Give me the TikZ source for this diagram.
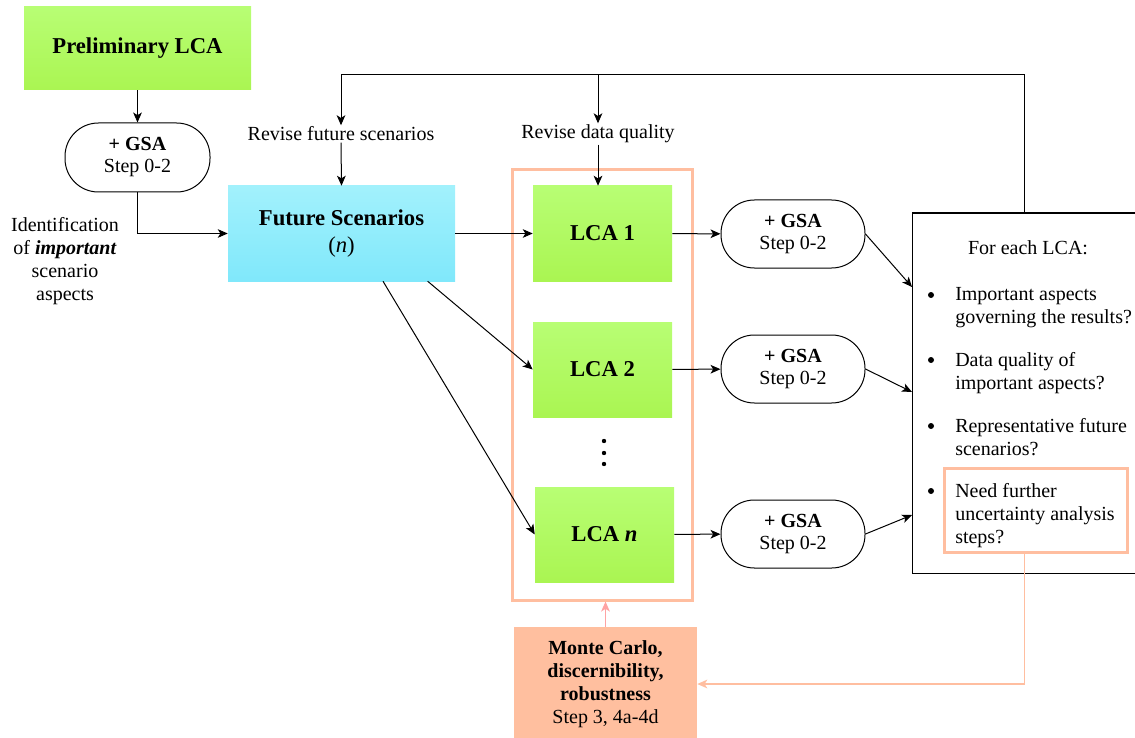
\documentclass[tikz,border=0pt]{standalone}
\usepackage{fontspec}
\setmainfont{Liberation Serif}
\usetikzlibrary{arrows.meta}

\definecolor{limeT}{HTML}{B8FE74}
\definecolor{limeB}{HTML}{AAF552}
\definecolor{cyanT}{HTML}{A2F1FC}
\definecolor{cyanB}{HTML}{80E8FB}
\definecolor{salmon}{HTML}{FFBEA0}
\definecolor{salmonFill}{HTML}{FFBF9F}
\definecolor{pinkArr}{HTML}{FFA3A3}

\tikzset{
  box/.style={rectangle, inner sep=0pt, align=center},
  lca/.style={box, top color=limeT, bottom color=limeB, minimum width=104.25pt, minimum height=71.25pt, font=\fontsize{17}{20}\selectfont\bfseries},
  gsa/.style={rectangle, rounded corners=25pt, draw, line width=0.75pt, minimum width=108pt, minimum height=51pt, inner sep=0pt, align=center, font=\fontsize{15}{16.5}\selectfont},
  note/.style={align=center, inner sep=1pt, font=\fontsize{15}{17.25}\selectfont},
  bullet/.style={circle, fill, inner sep=0pt, minimum size=4.5pt},
  arr/.style={-{Stealth[length=7.5pt, width=6.5pt, inset=2pt]}, line width=0.75pt},
}

\begin{document}
\begin{tikzpicture}[x=0.75pt, y=-0.75pt]
\useasboundingbox (0,0) rectangle (1135,738);
\clip (0,0) rectangle (1135,738);

% ── Left column ──
\node[lca, minimum width=170.25pt, minimum height=62.25pt] (prelim) at (137.5, 48.5) {Preliminary LCA};
\node[gsa, minimum width=108.75pt, minimum height=51.75pt] (gsa0) at (137.5, 157.5) {\textbf{+ GSA}\\Step 0-2};
\node[note] (ident) at (65, 261) {Identification\\of \textbf{\textit{important}}\\scenario\\aspects};

% ── Scenarios ──
\node[box, top color=cyanT, bottom color=cyanB, minimum width=170.25pt, minimum height=71.25pt, font=\fontsize{17}{20.5}\selectfont] (future) at (341.5, 233.5) {\textbf{Future Scenarios}\\(\textit{n})};
\node[note] (revfut) at (341, 134) {Revise future scenarios};
\node[note] (revdat) at (598, 134) {Revise data quality};

% ── LCA frame ──
\node[box, draw=salmon, line width=2.25pt, minimum width=135pt, minimum height=322.5pt] (frame) at (602, 385) {};
\node[lca] (lca1) at (602.5, 233.5) {LCA 1};
\node[lca] (lca2) at (602.5, 369.5) {LCA 2};
\node[lca] (lcan) at (604.5, 534.5) {LCA \textit{n}};
\foreach \y in {441, 453, 464} {
  \fill (604, \y) circle (2.2);
}

% ── GSA per LCA ──
\node[gsa] (gsa1) at (793, 234) {\textbf{+ GSA}\\Step 0-2};
\node[gsa] (gsa2) at (793, 369) {\textbf{+ GSA}\\Step 0-2};
\node[gsa] (gsa3) at (793, 534) {\textbf{+ GSA}\\Step 0-2};

% ── Review box ──
\node[box, draw, line width=0.75pt, minimum width=168.75pt, minimum height=270pt] (review) at (1024.5, 393) {};
\node[box, draw=salmon, line width=2.25pt, minimum width=137.25pt, minimum height=63pt] (needbox) at (1035.5, 510) {};
\node[note] (foreach) at (1028, 248) {For each LCA:};
\foreach \i/\y/\t in {1/295/{Important aspects\\governing the results?}, 2/360/{Data quality of\\important aspects?}, 3/426/{Representative future\\scenarios?}, 4/491/{Need further\\uncertainty analysis\\steps?}} {
  \node[bullet] (dot\i) at (931, \y) {};
  \node[note, inner sep=0pt, align=left, anchor=north west] (item\i) at (955, \y-7.5) {\t};
}

% ── Monte Carlo ──
\node[box, fill=salmonFill, minimum width=137.25pt, minimum height=85.5pt, font=\fontsize{15}{17.25}\selectfont] (mc) at (605.5, 684) {\textbf{Monte Carlo,}\\\textbf{discernibility,}\\\textbf{robustness}\\Step 3, 4a-4d};

% ── Connectors ──
\coordinate (top) at (341, 75);
\coordinate (in1) at (912, 287);
\coordinate (in2) at (912, 392);
\coordinate (in3) at (912, 515);
\draw[arr] (prelim) -- (gsa0);
\draw[arr] (gsa0.south) |- (future.west);
\draw[arr] (review.north) |- (top) -- (revfut.north);
\draw[arr] (revdat.north |- top) -- (revdat.north);
\draw[arr] (revfut.south) -- (future.north);
\draw[arr] (revdat.south) -- (revdat.south |- lca1.north);
\draw[arr] (future.east) -- (lca1.west);
\draw[arr] (future.-29) -- (lca2.west);
\draw[arr] (future.-49.5) -- (lcan.west);
\draw[arr] (lca1) -- (gsa1);
\draw[arr] (lca2) -- (gsa2);
\draw[arr] (lcan) -- (gsa3);
\draw[arr] (gsa1.east) -- (in1);
\draw[arr] (gsa2.east) -- (in2);
\draw[arr] (gsa3.east) -- (in3);
\draw[arr, draw=salmon, line width=1.1pt] (review.north |- needbox.south) |- (mc.east);
\draw[arr, draw=pinkArr, line width=1.1pt] (mc.north) -- (mc.north |- frame.south);

\end{tikzpicture}
\end{document}
